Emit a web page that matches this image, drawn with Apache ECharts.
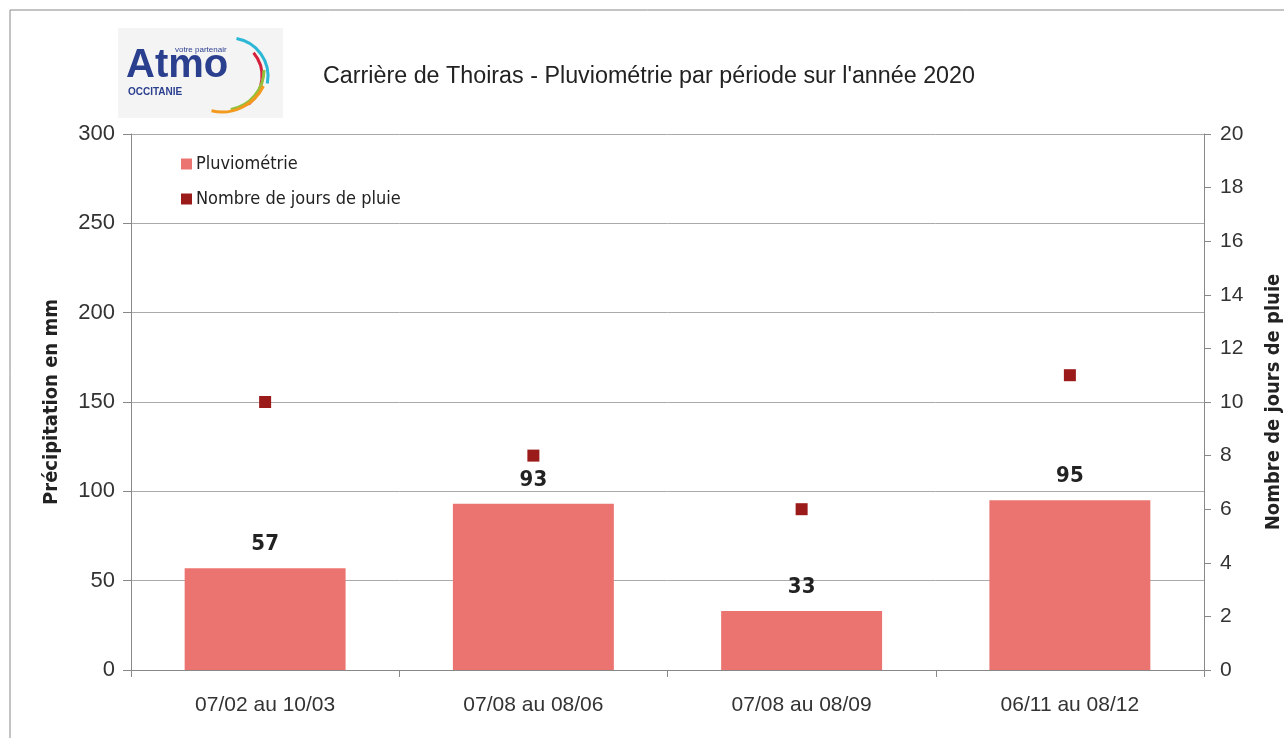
<!DOCTYPE html>
<html><head><meta charset="utf-8">
<script src="https://cdn.jsdelivr.net/npm/echarts@6/dist/echarts.min.js"></script>
<style>html,body{margin:0;padding:0;background:#fff}#c{width:1284px;height:738px}</style>
</head><body><div id="c"></div>
<script>
const categories = ['07/02 au 10/03', '07/08 au 08/06', '07/08 au 08/09', '06/11 au 08/12'];
const pluviometrie = [57, 93, 33, 95];
const joursPluie = [10, 8, 6, 11];

const chart = echarts.init(document.getElementById('c'));
const narrow = '"DejaVu Sans Condensed", "Liberation Sans Narrow", "Arial Narrow", sans-serif';
const sans = '"Liberation Sans", Arial, sans-serif';
chart.setOption({
  animation: false,
  title: {
    text: "Carrière de Thoiras - Pluviométrie par période sur l'année 2020",
    left: 644, top: 60, textAlign: 'center',
    textStyle: {fontFamily: sans, fontSize: 23.3, fontWeight: 'normal', color: '#222'}
  },
  legend: {
    orient: 'vertical', left: 176, top: 150, itemGap: 17,
    itemWidth: 11, itemHeight: 11,
    textStyle: {fontFamily: narrow, fontSize: 18, color: '#222', padding: [0,0,0,-1]},
    data: [{name: 'Pluviométrie', icon: 'rect'}, {name: 'Nombre de jours de pluie', icon: 'rect'}]
  },
  grid: {left: 131, right: 80, top: 134, bottom: 68, outerBoundsMode: 'none', containLabel: false},
  xAxis: {
    type: 'category', data: categories,
    axisLine: {lineStyle: {color: '#888'}},
    axisTick: {show: true, length: 7, lineStyle: {color: '#888'}},
    axisLabel: {fontFamily: sans, fontSize: 21, color: '#333', margin: 25}
  },
  yAxis: [{
    type: 'value', min: 0, max: 300, interval: 50,
    name: 'Précipitation en mm', nameLocation: 'middle', nameGap: 69, nameRotate: 90,
    nameTextStyle: {fontFamily: narrow, fontSize: 20, fontWeight: 'bold', color: '#222'},
    axisLine: {show: true, lineStyle: {color: '#888'}},
    axisTick: {show: true, length: 8, lineStyle: {color: '#888'}},
    axisLabel: {fontFamily: sans, fontSize: 22, color: '#333', margin: 16},
    splitLine: {lineStyle: {color: '#aaa'}}
  }, {
    type: 'value', min: 0, max: 20, interval: 2, position: 'right',
    name: 'Nombre de jours de pluie', nameLocation: 'middle', nameGap: 60, nameRotate: 90,
    nameTextStyle: {fontFamily: narrow, fontSize: 20, fontWeight: 'bold', color: '#222'},
    axisLine: {show: true, lineStyle: {color: '#888'}},
    axisTick: {show: true, length: 7, lineStyle: {color: '#888'}},
    axisLabel: {fontFamily: sans, fontSize: 21, color: '#333', margin: 16},
    splitLine: {show: false}
  }],
  series: [{
    name: 'Pluviométrie', type: 'bar', data: pluviometrie, barWidth: '60%',
    itemStyle: {color: '#ec7470'},
    label: {show: true, position: 'top', distance: 13, fontFamily: narrow, fontSize: 22, fontWeight: 'bold', color: '#222'}
  }, {
    name: 'Nombre de jours de pluie', type: 'scatter', yAxisIndex: 1, data: joursPluie,
    symbol: 'rect', symbolSize: 12, itemStyle: {color: '#9b1a1a', opacity: 1}
  }],
  graphic: [
    {type: 'rect', shape: {x: 10, y: 10, width: 1300, height: 760}, style: {fill: 'none', stroke: '#888', lineWidth: 1}, z: -1},
    {type: 'rect', shape: {x: 118, y: 28, width: 165, height: 90}, style: {fill: '#f4f4f4'}, z: 0},
    {type: 'text', left: 126, top: 46, style: {text: 'Atmo', font: 'bold 40px "Liberation Sans", Arial, sans-serif', fill: '#2b3f8f'}, z: 2},
    {type: 'text', left: 175, top: 46, style: {text: "votre partenair", font: '8px "Liberation Sans", Arial, sans-serif', fill: '#2b3f8f'}, z: 3},
    {type: 'text', left: 128, top: 87, style: {text: 'OCCITANIE', font: 'bold 10px "Liberation Sans", Arial, sans-serif', fill: '#2b3f8f'}, z: 2},
    {type: 'arc', shape: {cx: 230, cy: 76, r: 38, startAngle: -1.4, endAngle: 0.2}, style: {stroke: '#2cb7d6', lineWidth: 3, fill: 'none'}, z: 2},
    {type: 'arc', shape: {cx: 226, cy: 76, r: 36, startAngle: -0.7, endAngle: 0.9}, style: {stroke: '#d4213c', lineWidth: 3, fill: 'none'}, z: 2},
    {type: 'arc', shape: {cx: 224, cy: 70, r: 40, startAngle: 0.0, endAngle: 1.4}, style: {stroke: '#93c13c', lineWidth: 3, fill: 'none'}, z: 2},
    {type: 'arc', shape: {cx: 222, cy: 66, r: 46, startAngle: 0.45, endAngle: 1.8}, style: {stroke: '#f39a1e', lineWidth: 3, fill: 'none'}, z: 2}
  ]
});
</script></body></html>
